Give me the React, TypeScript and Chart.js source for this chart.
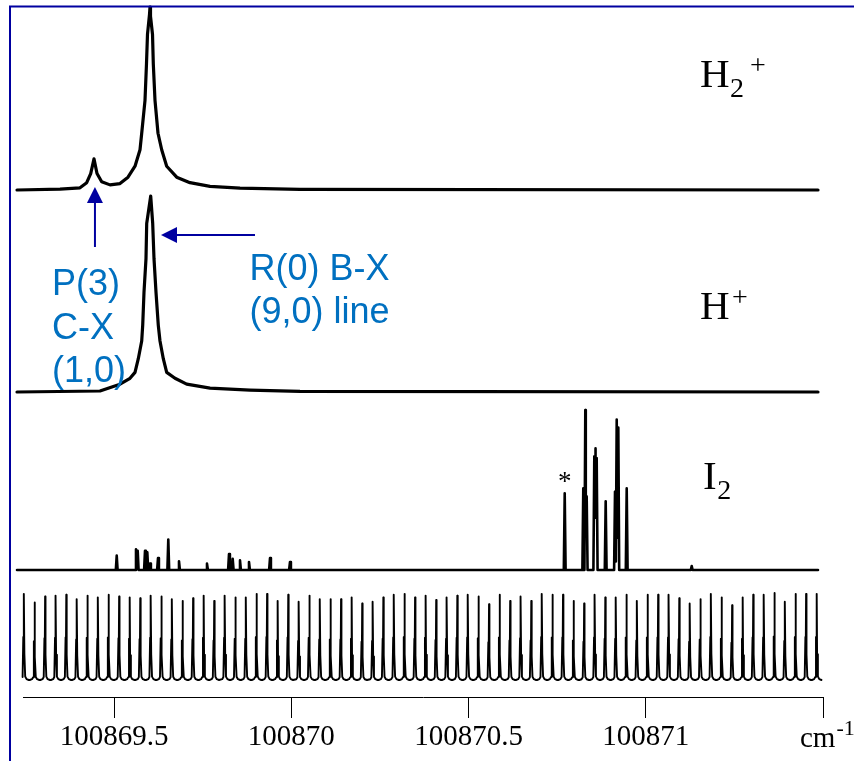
import React, { useEffect, useRef } from 'react';
import { Chart, registerables } from 'chart.js';

Chart.register(...registerables);

// ---------- axis ----------
const xMin = 100869.243;
const xMax = 100871.5;
const tickValues = [100869.5, 100870, 100870.5, 100871, 100871.5];
const tickLabels = ['100869.5', '100870', '100870.5', '100871', ''];
const unitMain = 'cm';
const unitSup = '-1';

const traceStart = 100869.2261;
const traceEnd = 100871.4859;

// ---------- H2+ trace (relative signal) ----------
const h2Wavenumber = [
  100869.2261, 100869.3474, 100869.4038, 100869.4227, 100869.434, 100869.4433, 100869.4518,
  100869.465, 100869.4885, 100869.5167, 100869.5392, 100869.559, 100869.5731, 100869.5779,
  100869.5872, 100869.5914, 100869.5942, 100869.5999, 100869.6013, 100869.6027, 100869.6084,
  100869.6106, 100869.6154, 100869.6239, 100869.6343, 100869.6484, 100869.6766, 100869.7141,
  100869.7706, 100869.8552, 100870.0245, 100871.4859,
];
const h2Signal = [
  0, 0.005, 0.012, 0.04, 0.09, 0.17, 0.09,
  0.045, 0.028, 0.035, 0.07, 0.13, 0.22, 0.31,
  0.49, 0.69, 0.85, 0.96, 1.0, 0.95, 0.85,
  0.69, 0.49, 0.31, 0.22, 0.13, 0.07, 0.04,
  0.02, 0.01, 0.003, 0,
];

// ---------- H+ trace ----------
const hWavenumber = [
  100869.2261, 100869.4602, 100869.5167, 100869.5449, 100869.559, 100869.5683, 100869.5779,
  100869.5807, 100869.5844, 100869.59, 100869.592, 100869.6033, 100869.6089, 100869.6126,
  100869.6182, 100869.6247, 100869.6295, 100869.6388, 100869.6484, 100869.6718, 100869.7048,
  100869.7706, 100869.8834, 100870.0245, 100871.4859,
];
const hSignal = [
  0, 0.005, 0.04, 0.07, 0.1, 0.17, 0.26,
  0.34, 0.51, 0.68, 0.86, 1.0, 0.86, 0.68,
  0.51, 0.34, 0.26, 0.17, 0.1, 0.07, 0.04,
  0.02, 0.01, 0.003, 0,
];

// ---------- I2 lines ----------
const i2LineWavenumber = [
  100869.5074, 100869.5618, 100869.5666, 100869.5872, 100869.5937, 100869.6013, 100869.6239,
  100869.6529, 100869.6831, 100869.7621, 100869.8242, 100869.8346, 100869.8552, 100869.8806,
  100869.9399, 100869.9963,
  100870.7713, 100870.8237, 100870.8294, 100870.8333, 100870.8548, 100870.8576, 100870.8615,
  100870.8869, 100870.9132, 100870.918, 100870.9225, 100870.9462, 100871.1296,
];
const i2LineIntensity = [
  0.09, 0.13, 0.12, 0.12, 0.11, 0.04, 0.075,
  0.19, 0.055, 0.04, 0.1, 0.07, 0.06, 0.05,
  0.075, 0.05,
  0.48, 0.51, 1.0, 0.46, 0.71, 0.76, 0.7,
  0.43, 0.49, 0.94, 0.89, 0.51, 0.025,
];
const i2Marked = 100870.7713; // line marked with *

// ---------- etalon fringes ----------
const etalonPeak = [
  100869.2458, 100869.2756, 100869.3054, 100869.3353, 100869.3651, 100869.3949, 100869.4247, 100869.4545,
  100869.4843, 100869.5142, 100869.544, 100869.5738, 100869.6036, 100869.6334, 100869.6633, 100869.6931,
  100869.7229, 100869.7527, 100869.7825, 100869.8123, 100869.8422, 100869.872, 100869.9018, 100869.9316,
  100869.9614, 100869.9913, 100870.0211, 100870.0509, 100870.0807, 100870.1105, 100870.1403, 100870.1702,
  100870.2, 100870.2298, 100870.2596, 100870.2894, 100870.3192, 100870.3491, 100870.3789, 100870.4087,
  100870.4385, 100870.4683, 100870.4981, 100870.528, 100870.5578, 100870.5876, 100870.6174, 100870.6472,
  100870.677, 100870.7069, 100870.7367, 100870.7665, 100870.7963, 100870.8261, 100870.856, 100870.8858,
  100870.9156, 100870.9454, 100870.9752, 100871.005, 100871.0349, 100871.0647, 100871.0945, 100871.1243,
  100871.1541, 100871.184, 100871.2138, 100871.2436, 100871.2734, 100871.3032, 100871.3331, 100871.3629,
  100871.3927, 100871.4225, 100871.4523, 100871.4822,
];
const etalonHeight = [
  0.99, 0.89, 0.96, 0.97, 0.98, 0.93, 0.97, 0.95, 0.98, 0.96, 0.95, 0.94, 0.97, 0.96, 0.93, 0.91,
  0.94, 0.97, 0.91, 0.97, 0.95, 0.95, 0.99, 0.99, 0.91, 0.98, 0.9, 0.97, 0.93, 0.93, 0.93, 0.95,
  0.88, 0.9, 0.95, 0.98, 0.99, 0.95, 0.97, 0.92, 0.95, 0.97, 0.98, 0.96, 0.87, 0.98, 0.91, 0.96,
  0.91, 0.99, 0.98, 0.98, 0.91, 0.88, 0.98, 0.95, 0.95, 0.98, 0.91, 0.98, 0.98, 0.98, 0.94, 0.88,
  0.93, 0.99, 0.95, 0.86, 0.95, 0.98, 0.98, 1.0, 0.9, 0.99, 0.99, 0.99,
];

// ---------- layout / style (not data) ----------
const CM_PER_PX = 0.00282125;
const layoutH2 = { offset: 507, gain: 183 };
const layoutH = { offset: 305, gain: 196 };
const layoutI2 = { offset: 127, gain: 160 };
const layoutEtalon = { offset: 17, gain: 87 };
// fringe line shape: [offset in px, fraction of peak height]
const fringeShape: [number, number][] = [
  [-4.8, 0], [-2.6, 0.01], [-1.4, 0.035], [-0.7, 0.5], [-0.35, 0.35],
  [0, 1], [0.4, 0.3], [1.2, 0.04], [2.6, 0.01], [4.8, 0],
];
const stickHalfWidth = 0.9 * CM_PER_PX;

const NAVY = '#0000A0';
const LABEL_BLUE = '#0070C0';
const SERIF = '"Liberation Serif", "Times New Roman", serif';
const SANS = '"Liberation Sans", Arial, sans-serif';

function profile(xs: number[], ys: number[], l: { offset: number; gain: number }) {
  return xs.map((x, i) => ({ x, y: l.offset + l.gain * ys[i] }));
}

function sticks(lx: number[], lh: number[], l: { offset: number; gain: number }) {
  const bps = new Set<number>([traceStart, traceEnd]);
  lx.forEach((x) => {
    bps.add(x - stickHalfWidth);
    bps.add(x);
    bps.add(x + stickHalfWidth);
  });
  const xs = Array.from(bps).sort((a, b) => a - b);
  return xs.map((x) => {
    let s = 0;
    lx.forEach((p, i) => {
      const d = Math.abs(x - p);
      if (d < stickHalfWidth) s += lh[i] * (1 - d / stickHalfWidth);
    });
    return { x, y: l.offset + l.gain * s };
  });
}

function fringes(px: number[], ph: number[], l: { offset: number; gain: number }) {
  const pts: { x: number; y: number }[] = [{ x: traceStart, y: l.offset }];
  px.forEach((p, i) => {
    fringeShape.forEach(([o, f]) => {
      pts.push({ x: p + o * CM_PER_PX, y: l.offset + l.gain * f * ph[i] });
    });
  });
  return pts;
}

// annotation anchors in data units
const arrowUp = { x: 100869.446, yTail: 450, yTip: 510 };
const arrowLeft = { y: 462, xTail: 100869.8975, xTip: 100869.6323 };
const noteP = { x: 100869.325, lines: ['P(3)', 'C-X', '(1,0)'], y: [402, 358, 315] };
const noteR = { x: 100869.882, lines: ['R(0) B-X', '(9,0) line'], y: [417, 374] };
const speciesH2 = { x: 100871.153, y: 610 };
const speciesH = { x: 100871.153, y: 378 };
const speciesI2 = { x: 100871.1614, y: 208 };
const starY = 207;

const overlayPlugin = {
  id: 'overlay',
  afterDraw(chart: any) {
    const ctx = chart.ctx as CanvasRenderingContext2D;
    const xs = chart.scales.x;
    const ys = chart.scales.y;
    const X = (v: number) => xs.getPixelForValue(v);
    const Y = (v: number) => ys.getPixelForValue(v);
    ctx.save();

    // frame
    ctx.strokeStyle = NAVY;
    ctx.lineWidth = 2;
    ctx.beginPath();
    ctx.moveTo(10, chart.height);
    ctx.lineTo(10, 6.5);
    ctx.lineTo(chart.width, 6.5);
    ctx.stroke();

    // arrows
    ctx.fillStyle = NAVY;
    ctx.strokeStyle = NAVY;
    ctx.lineWidth = 2;
    const ax = X(arrowUp.x);
    const tipY = Y(arrowUp.yTip);
    ctx.beginPath();
    ctx.moveTo(ax, Y(arrowUp.yTail));
    ctx.lineTo(ax, tipY + 14);
    ctx.stroke();
    ctx.beginPath();
    ctx.moveTo(ax, tipY);
    ctx.lineTo(ax - 8, tipY + 16);
    ctx.lineTo(ax + 8, tipY + 16);
    ctx.closePath();
    ctx.fill();

    const ay = Y(arrowLeft.y);
    const tipX = X(arrowLeft.xTip);
    ctx.beginPath();
    ctx.moveTo(X(arrowLeft.xTail), ay);
    ctx.lineTo(tipX + 14, ay);
    ctx.stroke();
    ctx.beginPath();
    ctx.moveTo(tipX, ay);
    ctx.lineTo(tipX + 16, ay - 8);
    ctx.lineTo(tipX + 16, ay + 8);
    ctx.closePath();
    ctx.fill();

    // blue notes
    ctx.fillStyle = LABEL_BLUE;
    ctx.font = `36px ${SANS}`;
    ctx.textAlign = 'left';
    ctx.textBaseline = 'alphabetic';
    noteP.lines.forEach((t, i) => ctx.fillText(t, X(noteP.x), Y(noteP.y[i])));
    noteR.lines.forEach((t, i) => ctx.fillText(t, X(noteR.x), Y(noteR.y[i])));

    // species labels
    ctx.fillStyle = '#000';
    const species = (x: number, y: number, main: string, sub: string, sup: string, supGap: number) => {
      ctx.font = `41px ${SERIF}`;
      ctx.fillText(main, x, y);
      let cx = x + ctx.measureText(main).width;
      ctx.font = `28px ${SERIF}`;
      if (sub) {
        ctx.fillText(sub, cx + 0.5, y + 10);
        cx += 0.5 + ctx.measureText(sub).width;
      }
      if (sup) ctx.fillText(sup, cx + supGap, y - 13);
    };
    species(X(speciesH2.x), Y(speciesH2.y), 'H', '2', '+', 6);
    species(X(speciesH.x), Y(speciesH.y), 'H', '', '+', 2.5);
    species(X(speciesI2.x), Y(speciesI2.y), 'I', '2', '', 0);

    // asterisk
    ctx.font = `27px ${SERIF}`;
    ctx.textAlign = 'center';
    ctx.fillText('*', X(i2Marked), Y(starY));

    // unit label at last tick
    const ux = X(tickValues[tickValues.length - 1]) - 23;
    ctx.textAlign = 'left';
    ctx.font = `29px ${SERIF}`;
    ctx.fillText(unitMain, ux, 747);
    const uw = ctx.measureText(unitMain).width;
    ctx.font = `22px ${SERIF}`;
    ctx.fillText(unitSup, ux + uw + 1, 735);

    ctx.restore();
  },
};

export default function App() {
  const ref = useRef<HTMLCanvasElement | null>(null);
  useEffect(() => {
    if (!ref.current) return;
    const lineStyle = (w: number) => ({
      borderColor: '#000',
      borderWidth: w,
      pointRadius: 0,
      tension: 0,
      fill: false,
      clip: false as any,
      borderJoinStyle: 'round' as const,
      borderCapStyle: 'round' as const,
    });
    const chart = new Chart(ref.current, {
      type: 'line',
      data: {
        datasets: [
          { label: 'H2+', data: profile(h2Wavenumber, h2Signal, layoutH2), ...lineStyle(3.2) },
          { label: 'H+', data: profile(hWavenumber, hSignal, layoutH), ...lineStyle(3.2) },
          { label: 'I2', data: sticks(i2LineWavenumber, i2LineIntensity, layoutI2), ...lineStyle(2.6) },
          { label: 'etalon', data: fringes(etalonPeak, etalonHeight, layoutEtalon), ...lineStyle(1.9) },
        ] as any,
      },
      options: {
        responsive: false,
        animation: false,
        devicePixelRatio: 1,
        layout: { padding: { left: 23, right: 31, top: 7, bottom: 0 } },
        plugins: { legend: { display: false }, tooltip: { enabled: false } },
        events: [],
        scales: {
          x: {
            type: 'linear',
            min: xMin,
            max: xMax,
            afterBuildTicks: (scale: any) => {
              scale.ticks = tickValues.map((v) => ({ value: v }));
            },
            afterFit: (scale: any) => {
              scale.height = 64;
            },
            ticks: {
              autoSkip: false,
              maxRotation: 0,
              minRotation: 0,
              padding: 2,
              color: '#000',
              font: { family: SERIF, size: 29 },
              callback: (_v: any, i: number) => tickLabels[i],
            },
            grid: {
              display: true,
              drawOnChartArea: false,
              drawTicks: true,
              tickLength: 21,
              color: '#000',
              lineWidth: 1,
            },
            border: { display: true, color: '#000', width: 1 },
          },
          y: {
            type: 'linear',
            display: false,
            min: 0,
            max: 690,
          },
        },
      } as any,
      plugins: [overlayPlugin],
    });
    return () => chart.destroy();
  }, []);
  return (
    <div style={{ position: 'fixed', left: 0, top: 0, width: 854, height: 761, background: '#fff' }}>
      <canvas ref={ref} width={854} height={761} style={{ display: 'block' }} />
    </div>
  );
}
